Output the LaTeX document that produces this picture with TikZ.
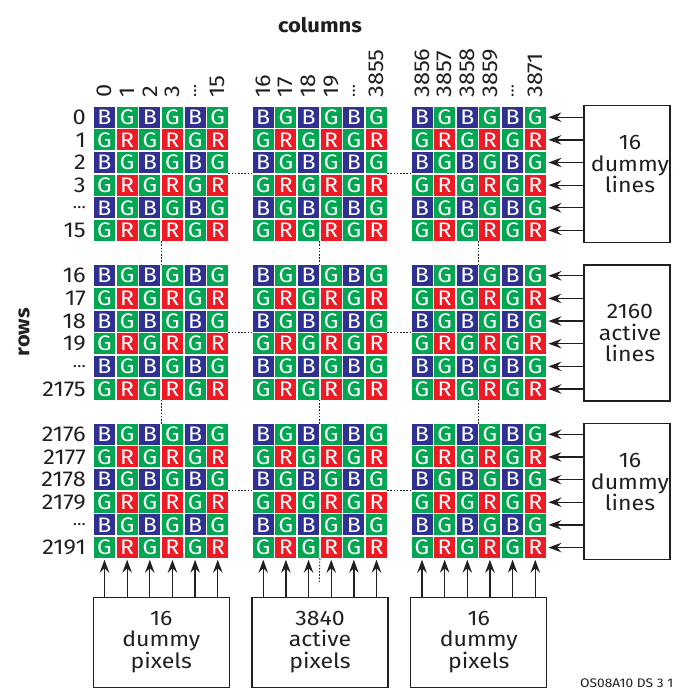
\documentclass[tikz,border=0pt]{standalone}
\usepackage{fontspec}
\setmainfont{Fira Sans}[FakeStretch=1.1]
\usetikzlibrary{arrows.meta,calc}
\definecolor{bblue}{HTML}{2E3192}
\definecolor{ggreen}{HTML}{00A651}
\definecolor{rred}{HTML}{ED1C24}
\definecolor{ink}{HTML}{231F20}
\newcommand{\eld}{{\fontsize{16}{16}\selectfont …}}
\begin{document}
\begin{tikzpicture}[x=1pt,y=-1pt,
  cell/.style={minimum size=21pt, inner sep=0pt, text=white, font=\fontsize{21}{21}\selectfont},
  cB/.style={cell, fill=bblue}, cG/.style={cell, fill=ggreen}, cR/.style={cell, fill=rred},
  lab/.style={text=ink, font=\fontsize{21.5}{21.5}\selectfont, inner sep=0pt},
  ttl/.style={text=ink, font=\fontsize{20}{20}\selectfont\bfseries, inner sep=0pt},
  box/.style={draw=ink, line width=1.2pt, inner sep=0pt},
  boxtxt/.style={text=ink, align=center, font=\fontsize{21}{21.5}\selectfont, inner sep=0pt},
  arr/.style={draw=ink, line width=1.3pt, -{Stealth[length=13pt,width=9.5pt,inset=4.5pt]}},
  dots/.style={draw=ink, line width=0.9pt, dash pattern=on 1.6pt off 1.6pt},
]
\useasboundingbox (0,0) rectangle (676,690);
% cells
\foreach \bi in {0,1,2} {
 \foreach \bj in {0,1,2} {
  \foreach \r in {0,...,5} {
   \foreach \c in {0,...,5} {
    \pgfmathtruncatemacro\k{mod(\r,2)*2+mod(\c,2)}
    \ifcase\k \def\st{cB}\def\lt{B}\or \def\st{cG}\def\lt{G}\or \def\st{cG}\def\lt{G}\else \def\st{cR}\def\lt{R}\fi
    \node[\st] (c-\bi-\bj-\r-\c) at (94+\bj*158.75+\c*22.65+10.5, 106.7+\bi*158.55+\r*22.65+10.5) {\lt};
   }
  }
 }
}
% row labels
\foreach \r/\t in {0/0,1/1,2/2,3/3,4/\eld,5/15}
  \node[lab, anchor=east] (rl-0-\r) at (86, 106.7+\r*22.65+10.5) {\t};
\foreach \r/\t in {0/16,1/17,2/18,3/19,4/\eld,5/2175}
  \node[lab, anchor=east] (rl-1-\r) at (86, 265.25+\r*22.65+10.5) {\t};
\foreach \r/\t in {0/2176,1/2177,2/2178,3/2179,4/\eld,5/2191}
  \node[lab, anchor=east] (rl-2-\r) at (86, 423.8+\r*22.65+10.5) {\t};
% column labels
\foreach \c/\t in {0/0,1/1,2/2,3/3,4/\eld,5/15}
  \node[lab, anchor=west, rotate=90] (cl-0-\c) at (94+\c*22.65+10.5, 98) {\t};
\foreach \c/\t in {0/16,1/17,2/18,3/19,4/\eld,5/3855}
  \node[lab, anchor=west, rotate=90] (cl-1-\c) at (252.75+\c*22.65+10.5, 98) {\t};
\foreach \c/\t in {0/3856,1/3857,2/3858,3/3859,4/\eld,5/3871}
  \node[lab, anchor=west, rotate=90] (cl-2-\c) at (411.5+\c*22.65+10.5, 98) {\t};
% titles
\node[ttl] (coltitle) at (320,25) {columns};
\node[ttl, rotate=90] (rowtitle) at (24,332) {rows};
% dotted horizontal links
\foreach \bi in {0,1,2} {
 \foreach \bj/\bn in {0/1,1/2} {
  \draw[dots] ($(c-\bi-\bj-2-5.south east)!.5!(c-\bi-\bj-3-5.north east)$) -- ($(c-\bi-\bn-2-0.south west)!.5!(c-\bi-\bn-3-0.north west)$);
 }
}
% dotted vertical links
\foreach \bj in {0,1,2} {
 \foreach \bi/\bn in {0/1,1/2} {
  \draw[dots] ($(c-\bi-\bj-5-2.south east)!.5!(c-\bi-\bj-5-3.south west)$) -- ($(c-\bn-\bj-0-2.north east)!.5!(c-\bn-\bj-0-3.north west)$);
 }
}
\coordinate (dend) at (320,583);
\draw[dots] ($(c-2-1-5-2.south east)!.5!(c-2-1-5-3.south west)$) -- (dend -| c-2-1-5-2.east);
% right boxes
\node[box, minimum width=86pt, minimum height=137pt] (rb0) at (627,173.8) {};
\node[box, minimum width=86pt, minimum height=136pt] (rb1) at (627,332.9) {};
\node[box, minimum width=86pt, minimum height=136pt] (rb2) at (627,491.2) {};
\node[boxtxt] (rt0) at (630,164) {16\\dummy\\lines};
\node[boxtxt] (rt1) at (630,333) {2160\\active\\lines};
\node[boxtxt] (rt2) at (630,482) {16\\dummy\\lines};
\foreach \bi in {0,1,2} {
 \foreach \r in {0,...,5} {
  \draw[arr] (rb\bi.west |- c-\bi-2-\r-5.east) -- ([xshift=2.5pt]c-\bi-2-\r-5.east);
 }
}
% bottom boxes
\node[box, minimum width=136pt, minimum height=90pt] (bb0) at (161.3,642.3) {};
\node[box, minimum width=136pt, minimum height=90pt] (bb1) at (320,642.3) {};
\node[box, minimum width=136pt, minimum height=90pt] (bb2) at (478.8,642.3) {};
\node[boxtxt] (bt0) at (161.3,642) {16\\dummy\\pixels};
\node[boxtxt] (bt1) at (320,642) {3840\\active\\pixels};
\node[boxtxt] (bt2) at (478.8,642) {16\\dummy\\pixels};
\foreach \bj in {0,1,2} {
 \foreach \c in {0,...,5} {
  \draw[arr] (bb\bj.north -| c-2-\bj-5-\c.south) -- ([yshift=-1.5pt]c-2-\bj-5-\c.south);
 }
}
% footer
\node[text=ink, font=\fontsize{12.5}{12.5}\selectfont, inner sep=0pt, anchor=base east] (foot) at (673.5,687) {OS08A10 DS 3 1};
\end{tikzpicture}
\end{document}
